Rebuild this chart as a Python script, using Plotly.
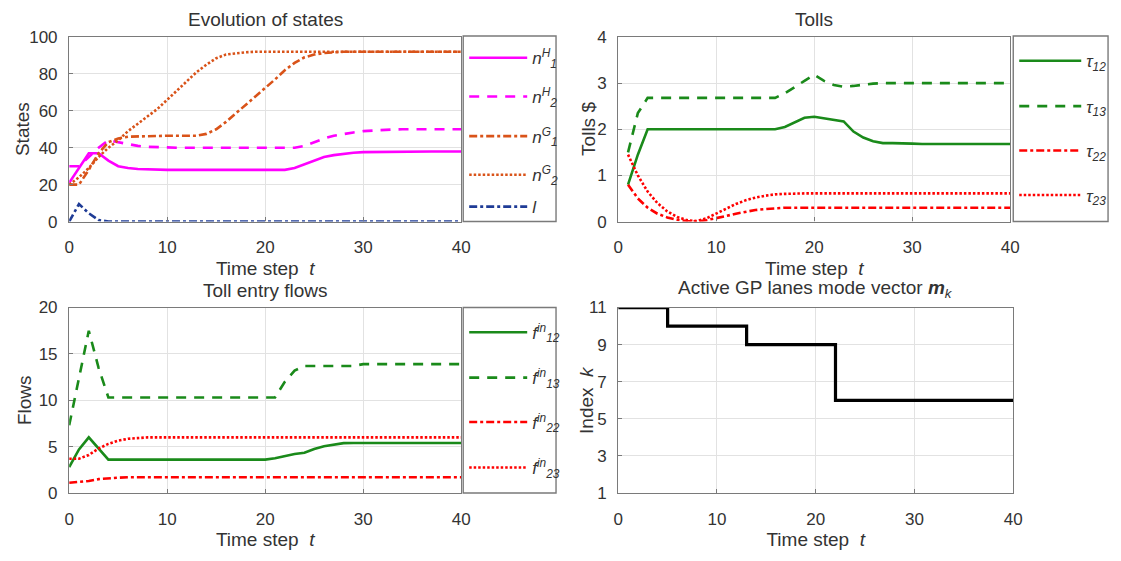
import plotly.graph_objects as go

# ---------------- data ----------------
t_states = list(range(0, 41))
n1H = [21, 29, 37, 37, 33, 30, 29, 28.5, 28.2, 28, 28, 28, 28, 28, 28, 28, 28, 28, 28, 28, 28, 28, 28,
       29, 31, 33, 35, 36, 36.8, 37.3, 37.6, 37.7, 37.8, 37.9, 38, 38, 38, 38, 38, 38, 38]
n2H = [30, 30, 35, 40, 44, 43, 42, 41, 40.5, 40.2, 40, 40, 40, 40, 40, 40, 40, 40, 40, 40, 40, 40, 40, 40,
       41, 43, 45, 46.5, 47.5, 48.3, 49, 49.4, 49.7, 49.9, 50, 50, 50, 50, 50, 50, 50]
n1G = [20, 20, 28, 37, 43, 45, 46, 46.2, 46.4, 46.5, 46.5, 46.5, 46.5, 46.5, 47.5, 50, 54, 58.5, 63, 67.5,
       72, 77, 82, 86, 89, 90.5, 91.3, 91.7, 92, 92, 92, 92, 92, 92, 92, 92, 92, 92, 92, 92, 92]
n2G = [20, 24, 29, 35, 40, 44, 49, 53, 57, 61, 66, 71, 76, 81, 85, 88.5, 90.5, 91.3, 91.7, 92, 92, 92, 92,
       92, 92, 92, 92, 92, 92, 92, 92, 92, 92, 92, 92, 92, 92, 92, 92, 92, 92]
I_q = [0, 9.5, 4.5, 0.8] + [0] * 37

t_tolls = list(range(1, 41))
tau12 = [0.8, 1.45, 2.0] + [2.0] * 13 + [2.05, 2.15, 2.25, 2.27, 2.24, 2.2, 2.17, 1.95, 1.82, 1.74, 1.7, 1.7,
                                         1.7, 1.69] + [1.68] * 10
tau13 = [1.5, 2.35, 2.68] + [2.68] * 13 + [2.78, 2.92, 3.05, 3.18, 3.05, 2.96, 2.92, 2.94, 2.97, 2.99] + [3.0] * 14
tau22 = [0.8, 0.5, 0.3, 0.17, 0.09, 0.04, 0.01, 0.0, 0.03, 0.07, 0.12, 0.17, 0.21, 0.25, 0.27, 0.29,
         0.3] + [0.3] * 23
tau23 = [1.45, 1.0, 0.65, 0.4, 0.22, 0.1, 0.03, 0.01, 0.07, 0.17, 0.28, 0.38, 0.46, 0.52, 0.56, 0.59,
         0.6] + [0.61] * 23

t_flows = list(range(0, 41))
f12 = [2.8, 4.7, 6.0, 4.8] + [3.6] * 17 + [3.75, 4.0, 4.2, 4.35, 4.75, 5.05, 5.25, 5.38] + [5.4] * 12
f13 = [7.3, 12.5, 17.5, 13.5] + [10.3] * 18 + [12.0, 13.2, 13.7, 13.7, 13.7, 13.7, 13.7, 13.7] + [13.9] * 11
f22 = [1.1, 1.2, 1.3, 1.5, 1.6, 1.65] + [1.7] * 35
f23 = [3.7, 3.7, 4.1, 4.8, 5.3, 5.65, 5.85, 5.95] + [6.0] * 33

t_mode = [0, 5, 13, 22, 40]
mode_k = [11, 10, 9, 6, 6]

x_ticks = [0, 10, 20, 30, 40]
states_ticks = [0, 20, 40, 60, 80, 100]
tolls_ticks = [0, 1, 2, 3, 4]
flows_ticks = [0, 5, 10, 15, 20]
index_ticks = [1, 3, 5, 7, 9, 11]

# ---------------- style ----------------
W, H = 1121, 561
FONT = "Liberation Sans, Arial, sans-serif"
TXT = "#333333"
AXC = "#7a7a7a"
GRID = "#e2e2e2"
MAG = "#ff00ff"
ORA = "#d95319"
BLU = "#1f3c96"
GRN = "#1a8a1a"
RED = "#ff0000"
LW = 2.6
DASH = "10px,8px"
DOT = "2.5px,2px"
DASHDOT = "8px,3px,3px,3px"
TICK_FS = 17
TITLE_FS = 19
AXT_FS = 19
LEG_FS = 17

def px(x):
    return x / W

def py(y):
    return 1 - y / H

# axes boxes in pixels (left, right, top, bottom)
boxes = {
    1: (65, 462, 29, 220),
    2: (621, 1018, 29, 220),
    3: (65, 462, 309, 501),
    4: (621, 1021, 309, 501),
}

fig = go.Figure()

series = [
    # (axis, x, y, color, dash, label, legend y px)
    (1, t_states, n1H, MAG, "solid", "<i>n</i><sup><i>H</i></sup><sub><i>1</i></sub>", 51),
    (1, t_states, n2H, MAG, DASH, "<i>n</i><sup><i>H</i></sup><sub><i>2</i></sub>", 91),
    (1, t_states, n1G, ORA, DASHDOT, "<i>n</i><sup><i>G</i></sup><sub><i>1</i></sub>", 132),
    (1, t_states, n2G, ORA, DOT, "<i>n</i><sup><i>G</i></sup><sub><i>2</i></sub>", 172),
    (1, t_states, I_q, BLU, DASHDOT, "<i>l</i>", 205),
    (2, t_tolls, tau12, GRN, "solid", "<i>τ</i><sub><i>12</i></sub>", 54),
    (2, t_tolls, tau13, GRN, DASH, "<i>τ</i><sub><i>13</i></sub>", 101),
    (2, t_tolls, tau22, RED, DASHDOT, "<i>τ</i><sub><i>22</i></sub>", 147),
    (2, t_tolls, tau23, RED, DOT, "<i>τ</i><sub><i>23</i></sub>", 193),
    (3, t_flows, f12, GRN, "solid", "<i>f</i><sup><i>in</i></sup><sub><i>12</i></sub>", 335),
    (3, t_flows, f13, GRN, DASH, "<i>f</i><sup><i>in</i></sup><sub><i>13</i></sub>", 382),
    (3, t_flows, f22, RED, DASHDOT, "<i>f</i><sup><i>in</i></sup><sub><i>22</i></sub>", 428),
    (3, t_flows, f23, RED, DOT, "<i>f</i><sup><i>in</i></sup><sub><i>23</i></sub>", 475),
]

legend_x = {1: 465, 2: 1022, 3: 465}
item_w = {1: 58, 2: 62, 3: 58}
layout_legends = {}
for i, (ax, xs, ys, col, dash, name, ly) in enumerate(series):
    lname = "legend" if i == 0 else f"legend{i + 1}"
    axs = "" if ax == 1 else str(ax)
    fig.add_trace(go.Scatter(
        x=xs, y=ys, mode="lines", name=name,
        line=dict(color=col, width=LW, dash=dash),
        xaxis="x" + axs, yaxis="y" + axs, legend=lname, showlegend=True,
    ))
    layout_legends[lname] = dict(
        x=px(legend_x[ax]), y=py(ly), xanchor="left", yanchor="middle",
        bgcolor="rgba(0,0,0,0)", borderwidth=0, itemwidth=item_w[ax],
        font=dict(family=FONT, size=LEG_FS, color=TXT),
    )

fig.add_trace(go.Scatter(
    x=t_mode, y=mode_k, mode="lines", line=dict(color="black", width=3.2, shape="hv"),
    xaxis="x4", yaxis="y4", showlegend=False,
))

yconf = {1: (states_ticks, [0, 100], "States", 17),
         2: (tolls_ticks, [0, 4], "Tolls $", 591),
         3: (flows_ticks, [0, 20], "Flows", 20),
         4: (index_ticks, [1, 11], "Index  <i>k</i>", 589)}

annotations = []
for ax, (l, r, t, b) in boxes.items():
    s = "" if ax == 1 else str(ax)
    ticks, rng, ytitle, ytx = yconf[ax]
    common = dict(showline=True, mirror=True, linecolor=AXC, linewidth=1.4,
                  showgrid=True, gridcolor=GRID, gridwidth=1, zeroline=False,
                  ticks="inside", ticklen=4, tickcolor=AXC,
                  tickfont=dict(family=FONT, size=TICK_FS, color=TXT))
    fig.layout["xaxis" + s] = dict(
        domain=[px(l), px(r)], range=[0, 40], tickvals=x_ticks, anchor="y" + s,
        title=dict(text="Time step  <i>t</i>", font=dict(family=FONT, size=AXT_FS, color=TXT), standoff=5),
        ticklabelstandoff=10, **common)
    fig.layout["yaxis" + s] = dict(
        domain=[py(b), py(t)], range=rng, tickvals=ticks, anchor="x" + s,
        ticklabelstandoff=7, **common)
    annotations.append(dict(
        text=ytitle, x=px(ytx), y=py((t + b) / 2), xref="paper", yref="paper",
        xanchor="center", yanchor="middle", textangle=-90, showarrow=False,
        font=dict(family=FONT, size=AXT_FS, color=TXT)))

titles = [
    (1, "Evolution of states"),
    (2, "Tolls"),
    (3, "Toll entry flows"),
    (4, "Active GP lanes mode vector <b><i>m</i></b><sub><i>k</i></sub>"),
]
for ax, txt in titles:
    l, r, t, b = boxes[ax]
    annotations.append(dict(
        text=txt, x=px((l + r) / 2), y=py(t - 5), xref="paper", yref="paper",
        xanchor="center", yanchor="bottom", showarrow=False,
        font=dict(family=FONT, size=TITLE_FS, color=TXT)))

shapes = []
for (l, r, t, b) in [(464, 558, 28, 220), (1021, 1117, 28, 220), (464, 558, 309, 501)]:
    shapes.append(dict(type="rect", xref="paper", yref="paper",
                       x0=px(l), x1=px(r), y0=py(b), y1=py(t),
                       line=dict(color=AXC, width=1.4), fillcolor="rgba(0,0,0,0)"))

fig.update_layout(
    width=W, height=H, margin=dict(l=0, r=0, t=0, b=0),
    paper_bgcolor="white", plot_bgcolor="white",
    font=dict(family=FONT, size=TICK_FS, color=TXT),
    annotations=annotations, shapes=shapes,
    **layout_legends,
)

fig.write_html("out.html")
